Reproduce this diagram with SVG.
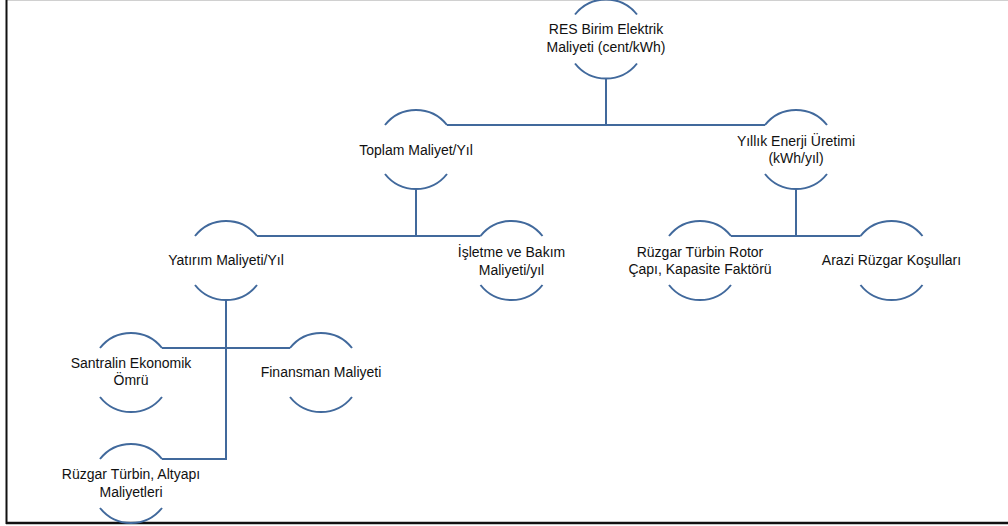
<svg xmlns="http://www.w3.org/2000/svg" width="1008" height="526" viewBox="0 0 1008 526">
<style>
.arc{fill:none;stroke:#41699C;stroke-width:2}
.con{fill:none;stroke:#41699C;stroke-width:2}
text{font-family:"Liberation Sans",Arial,sans-serif;font-size:14px;fill:#111;text-anchor:middle}
</style>
<rect x="0" y="0" width="1008" height="526" fill="#fff"/>
<line x1="7" y1="0.5" x2="1008" y2="0.5" stroke="#d0d0d0" stroke-width="1"/>
<line x1="6.5" y1="0" x2="6.5" y2="524" stroke="#111" stroke-width="2"/>
<line x1="6" y1="523" x2="1008" y2="523" stroke="#111" stroke-width="2.5"/>
<g id="connectors">
<path class="con" d="M606 78.5V125M447 125H765M416 189V236M257 236H480.5M796 189V236M731 236H860.5M226 300V459H162M162 348H290"/>
</g>
<g id="n1">
<path class="arc" d="M575 14.5A39.5 39.5 0 0 1 637 14.5M575 63.5A39.5 39.5 0 0 0 637 63.5"/>
<text x="606" y="34">RES Birim Elektrik</text>
<text x="606" y="52">Maliyeti (cent/kWh)</text>
</g>
<g id="n2">
<path class="arc" d="M385 125A39.5 39.5 0 0 1 447 125M385 174A39.5 39.5 0 0 0 447 174"/>
<text x="416" y="155">Toplam Maliyet/Yıl</text>
</g>
<g id="n3">
<path class="arc" d="M765 125A39.5 39.5 0 0 1 827 125M765 174A39.5 39.5 0 0 0 827 174"/>
<text x="796" y="146">Yıllık Enerji Üretimi</text>
<text x="796" y="163">(kWh/yıl)</text>
</g>
<g id="n4">
<path class="arc" d="M195 236A39.5 39.5 0 0 1 257 236M195 285A39.5 39.5 0 0 0 257 285"/>
<text x="226" y="265">Yatırım Maliyeti/Yıl</text>
</g>
<g id="n5">
<path class="arc" d="M480.5 236A39.5 39.5 0 0 1 542.5 236M480.5 285A39.5 39.5 0 0 0 542.5 285"/>
<text x="511.5" y="257">İşletme ve Bakım</text>
<text x="511.5" y="275">Maliyeti/yıl</text>
</g>
<g id="n6">
<path class="arc" d="M669 236A39.5 39.5 0 0 1 731 236M669 285A39.5 39.5 0 0 0 731 285"/>
<text x="700" y="257">Rüzgar Türbin Rotor</text>
<text x="700" y="274">Çapı, Kapasite Faktörü</text>
</g>
<g id="n7">
<path class="arc" d="M860.5 236A39.5 39.5 0 0 1 922.5 236M860.5 285A39.5 39.5 0 0 0 922.5 285"/>
<text x="891.5" y="265">Arazi Rüzgar Koşulları</text>
</g>
<g id="n8">
<path class="arc" d="M100 348A39.5 39.5 0 0 1 162 348M100 397A39.5 39.5 0 0 0 162 397"/>
<text x="131" y="368">Santralin Ekonomik</text>
<text x="131" y="385">Ömrü</text>
</g>
<g id="n9">
<path class="arc" d="M290 348A39.5 39.5 0 0 1 352 348M290 397A39.5 39.5 0 0 0 352 397"/>
<text x="321" y="377">Finansman Maliyeti</text>
</g>
<g id="n10">
<path class="arc" d="M100 459A39.5 39.5 0 0 1 162 459M100 508A39.5 39.5 0 0 0 162 508"/>
<text x="131" y="479">Rüzgar Türbin, Altyapı</text>
<text x="131" y="497">Maliyetleri</text>
</g>
</svg>
